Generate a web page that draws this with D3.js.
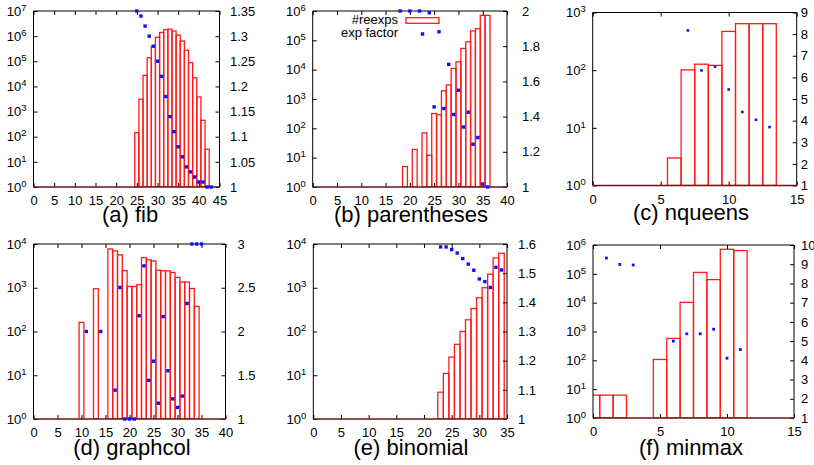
<!DOCTYPE html>
<html>
<head>
<meta charset="utf-8">
<script src="https://cdn.jsdelivr.net/npm/d3@7"></script>
<style>
  body { margin: 0; background: #fff; }
  svg { font-family: "Liberation Sans", Arial, sans-serif; }
</style>
</head>
<body>
<div id="chart"></div>
<script>
// (a) fib
const fibBins = [25, 26, 27, 28, 29, 30, 31, 32, 33, 34, 35, 36, 37, 38, 39, 40, 41, 42];
const fibReexps = [145, 3100, 27600, 139000, 400000, 900000, 1400000, 1800000, 1900000, 1600000, 1100000, 640000, 275000, 88000, 22000, 3800, 450, 32];
const fibFactorX = [25, 26, 27, 28, 29, 30, 31, 32, 33, 34, 35, 36, 37, 38, 39, 40, 41, 42, 43];
const fibFactor = [1.35, 1.34, 1.32, 1.30, 1.28, 1.25, 1.22, 1.18, 1.14, 1.11, 1.08, 1.06, 1.04, 1.03, 1.02, 1.01, 1.01, 1.0, 1.0];

// (b) parentheses
const parBins = [19, 21, 23, 24, 25, 26, 27, 28, 29, 30, 31, 32, 33, 34, 35, 36];
const parReexps = [5, 19, 70, 12, 320, 290, 1900, 3000, 11000, 18500, 53000, 89000, 210000, 250000, 710000, 710000];
const parFactorX = [18, 20, 22, 24, 25, 26, 27, 28, 29, 30, 31, 32, 33, 34, 35, 36];
const parFactor = [2.0, 2.0, 2.0, 1.99, 1.455, 1.882, 1.446, 1.697, 1.412, 1.55, 1.341, 1.425, 1.243, 1.281, 1.017, 1.0];

// (c) nqueens
const nqBins = [6, 7, 8, 9, 10, 11, 12, 13];
const nqReexps = [3, 101, 127, 121, 470, 640, 640, 640];
const nqFactorX = [7, 8, 9, 10, 11, 12, 13];
const nqFactor = [8.17, 6.32, 6.5, 5.44, 4.4, 4.04, 3.7];

// (d) graphcol
const gcBins = [10, 13, 16, 17, 18, 19, 20, 21, 22, 23, 24, 25, 26, 27, 28, 29, 30, 31, 32, 33, 34];
const gcReexps = [162, 950, 7700, 6950, 5650, 2450, 1070, 1070, 1170, 4900, 4350, 4100, 2520, 2450, 2440, 2230, 1720, 1350, 1350, 960, 375];
const gcFactorX = [11, 14, 17, 18, 19, 20, 21, 22, 23, 24, 25, 26, 27, 28, 29, 30, 31, 32, 33, 34, 35];
const gcFactor = [2.0, 2.0, 1.33, 2.503, 1.0, 1.0, 1.0, 2.18, 2.75, 1.442, 1.661, 1.181, 2.17, 1.552, 1.23, 1.132, 1.262, 2.32, 3.0, 3.0, 3.0];

// (e) binomial
const binBins = [23, 24, 25, 26, 27, 28, 29, 30, 31, 32, 33, 34];
const binReexps = [4.1, 11, 26, 51, 100, 185, 335, 590, 1000, 2040, 4800, 6150];
const binFactorX = [23, 24, 25, 26, 27, 28, 29, 30, 31, 32, 33, 34];
const binFactor = [1.59, 1.59, 1.581, 1.569, 1.55, 1.531, 1.51, 1.48, 1.471, 1.451, 1.52, 1.511];

// (f) minmax
const mmBins = [0, 1, 2, 5, 6, 7, 8, 9, 10, 11];
const mmReexps = [6.2, 6.2, 6.2, 107, 575, 10200, 112000, 63000, 710000, 640000];
const mmFactorX = [1, 2, 3, 6, 7, 8, 9, 10, 11];
const mmFactor = [9.32, 8.99, 8.96, 5.0, 5.38, 5.38, 5.62, 4.11, 4.56];

// tick labels
const ticks45 = [0, 5, 10, 15, 20, 25, 30, 35, 40, 45];
const ticks40 = [0, 5, 10, 15, 20, 25, 30, 35, 40];
const ticks35 = [0, 5, 10, 15, 20, 25, 30, 35];
const ticks15 = [0, 5, 10, 15];
const fibRight = [1, 1.05, 1.1, 1.15, 1.2, 1.25, 1.3, 1.35];
const parRight = [1, 1.2, 1.4, 1.6, 1.8, 2];
const nqRight = [1, 2, 3, 4, 5, 6, 7, 8, 9];
const gcRight = [1, 1.5, 2, 2.5, 3];
const binRight = [1, 1.1, 1.2, 1.3, 1.4, 1.5, 1.6];
const mmRight = [1, 2, 3, 4, 5, 6, 7, 8, 9, 10];

const width = 814, height = 465;

// one entry per sub-plot: [left, top, right, bottom] of the frame
const panels = [
    { title: "(a) fib", box: [33.5, 11, 219.5, 187], xTicks: ticks45, decades: 7, right: fibRight,
      bins: fibBins, reexps: fibReexps, fx: fibFactorX, fy: fibFactor, r2gap: 10.5, titleX: 130, titleY: 222, dot: 3.4 },
    { title: "(b) parentheses", box: [312.7, 11, 507, 187], xTicks: ticks40, decades: 6, right: parRight,
      bins: parBins, reexps: parReexps, fx: parFactorX, fy: parFactor, r2gap: 15, titleX: 411, titleY: 222, dot: 3.4, legend: true },
    { title: "(c) nqueens", box: [592.7, 12.5, 796.7, 185.5], xTicks: ticks15, decades: 3, right: nqRight,
      bins: nqBins, reexps: nqReexps, fx: nqFactorX, fy: nqFactor, r2gap: 4, titleX: 691, titleY: 220, dot: 2.6 },
    { title: "(d) graphcol", box: [33.5, 244, 225.5, 419], xTicks: ticks40, decades: 4, right: gcRight,
      bins: gcBins, reexps: gcReexps, fx: gcFactorX, fy: gcFactor, r2gap: 12, titleX: 132, titleY: 455, dot: 3.4 },
    { title: "(e) binomial", box: [313.3, 244, 507, 419], xTicks: ticks35, decades: 4, right: binRight,
      bins: binBins, reexps: binReexps, fx: binFactorX, fy: binFactor, r2gap: 11, titleX: 411, titleY: 455, dot: 3.4 },
    { title: "(f) minmax", box: [593, 245, 794, 418], xTicks: ticks15, decades: 6, right: mmRight,
      bins: mmBins, reexps: mmReexps, fx: mmFactorX, fy: mmFactor, r2gap: 7, titleX: 691, titleY: 455, dot: 2.8 }
];

const svg = d3.select("#chart")
    .append("svg")
    .attr("width", width)
    .attr("height", height);

panels.forEach((p, i) => {
    const [L, T, R, B] = p.box;
    const xMax = p.xTicks[p.xTicks.length - 1];

    const x = d3.scaleLinear().domain([0, xMax]).range([L, R]);
    const y = d3.scaleLog().domain([1, Math.pow(10, p.decades)]).range([B, T]);
    const y2 = d3.scaleLinear().domain([p.right[0], p.right[p.right.length - 1]]).range([B, T]);

    const g = svg.append("g");

    g.append("clipPath")
        .attr("id", "clip" + i)
        .append("rect")
        .attr("x", L).attr("y", T - 1)
        .attr("width", R - L).attr("height", B - T + 1);

    // bars (#reexps)
    g.append("g")
        .attr("clip-path", `url(#clip${i})`)
        .selectAll("rect")
        .data(p.bins.map((b, k) => ({ b: b, v: p.reexps[k] })))
        .enter()
        .append("rect")
        .attr("x", d => x(d.b - 0.5))
        .attr("y", d => y(d.v))
        .attr("width", d => x(d.b + 0.5) - x(d.b - 0.5))
        .attr("height", d => B - y(d.v))
        .attr("fill", "none")
        .attr("stroke", "#ff1a1a")
        .attr("stroke-width", 1.3);

    // x axis with mirrored ticks
    g.append("g")
        .attr("transform", `translate(0,${B})`)
        .call(d3.axisBottom(x).tickValues(p.xTicks).tickSizeInner(-4).tickSizeOuter(0).tickPadding(9));
    g.append("g")
        .attr("transform", `translate(0,${T})`)
        .call(d3.axisTop(x).tickValues(p.xTicks).tickSizeInner(-4).tickSizeOuter(0).tickFormat(""));

    // left log axis, labels as 10^n
    const decades = d3.range(0, p.decades + 1).map(e => Math.pow(10, e));
    const yAxis = g.append("g")
        .attr("transform", `translate(${L},0)`)
        .call(d3.axisLeft(y).tickValues(decades).tickSizeInner(-4).tickSizeOuter(0).tickPadding(7));
    yAxis.selectAll("text").each(function(d) {
        const t = d3.select(this).text(null);
        t.append("tspan").text("10");
        t.append("tspan").attr("dy", -5).attr("font-size", 9.5).text(Math.round(Math.log10(d)));
    });

    // right axis (exp factor)
    g.append("g")
        .attr("transform", `translate(${R},0)`)
        .call(d3.axisRight(y2).tickValues(p.right).tickSizeInner(-4).tickSizeOuter(0).tickPadding(p.r2gap)
            .tickFormat(d => String(+d.toFixed(2))));

    g.selectAll(".domain").remove();
    g.selectAll(".tick line").attr("stroke", "#000");
    g.selectAll(".tick text")
        .attr("font-family", "Liberation Sans, Arial, sans-serif")
        .attr("font-size", 13)
        .attr("fill", "#000");
    yAxis.selectAll("tspan:last-child").attr("font-size", 9.5);

    // frame
    g.append("path")
        .attr("d", `M${L},${B}V${T}H${R}V${B}`)
        .attr("fill", "none")
        .attr("stroke", "#000")
        .attr("stroke-width", 1);
    g.append("line")
        .attr("x1", L).attr("x2", R)
        .attr("y1", B).attr("y2", B)
        .attr("stroke", "#6a1414")
        .attr("stroke-width", 1.6);

    // exp factor points
    g.append("g")
        .selectAll("rect")
        .data(p.fx.map((v, k) => ({ x: v, f: p.fy[k] })))
        .enter()
        .append("rect")
        .attr("x", d => x(d.x) - p.dot / 2)
        .attr("y", d => y2(d.f) - p.dot / 2)
        .attr("width", p.dot)
        .attr("height", p.dot)
        .attr("fill", "#1010ff");

    // legend (only in panel b)
    if (p.legend) {
        const lx = R - 109;
        g.append("text").attr("x", lx).attr("y", 24).attr("text-anchor", "end")
            .attr("font-size", 13).text("#reexps");
        g.append("rect").attr("x", lx + 8).attr("y", 17.7).attr("width", 33).attr("height", 5.6)
            .attr("fill", "none").attr("stroke", "#ff1a1a").attr("stroke-width", 1.3);
        g.append("text").attr("x", lx).attr("y", 37).attr("text-anchor", "end")
            .attr("font-size", 13).text("exp factor");
        g.append("rect").attr("x", lx + 24.5 - p.dot / 2).attr("y", 34 - p.dot / 2)
            .attr("width", p.dot).attr("height", p.dot).attr("fill", "#1010ff");
    }

    // panel caption
    g.append("text")
        .attr("x", p.titleX)
        .attr("y", p.titleY)
        .attr("text-anchor", "middle")
        .attr("font-size", 22)
        .text(p.title);
});
</script>
</body>
</html>
